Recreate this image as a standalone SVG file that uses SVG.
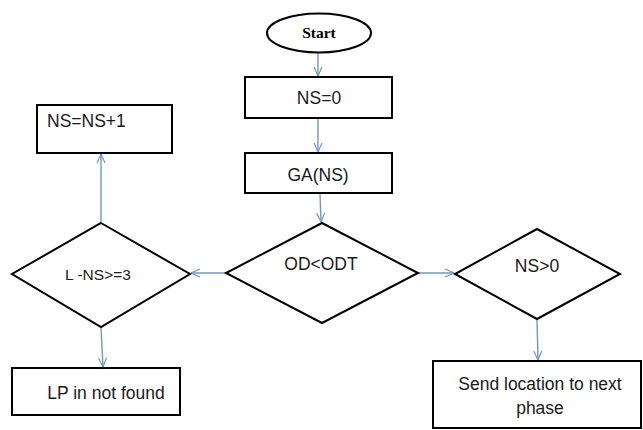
<svg xmlns="http://www.w3.org/2000/svg" width="643" height="430" viewBox="0 0 643 430">
  <defs>
    <marker id="arrow" viewBox="0 0 10 10" refX="10" refY="5" markerWidth="10" markerHeight="10" markerUnits="userSpaceOnUse" orient="auto">
      <path d="M1,1 L10,5 L1,9" fill="none" stroke="#7497c0" stroke-width="1.2"/>
    </marker>
    <style>
      .shape { fill: #ffffff; stroke: #000000; stroke-width: 2; }
      .link { fill: none; stroke: #7497c0; stroke-width: 1.4; marker-end: url(#arrow); }
      .label { font-family: "Liberation Sans", Arial, sans-serif; font-size: 17.5px; fill: #1a1a1a; text-anchor: middle; }
      .title { font-family: "Liberation Serif", "Times New Roman", serif; font-size: 15.5px; font-weight: bold; fill: #000000; text-anchor: middle; }
    </style>
  </defs>
  <rect width="643" height="430" fill="#ffffff"/>

  <g id="connectors">
    <line class="link" x1="318" y1="53" x2="318" y2="76"/>
    <line class="link" x1="318" y1="118" x2="318" y2="152"/>
    <line class="link" x1="320" y1="193" x2="321" y2="222"/>
    <line class="link" x1="226" y1="273" x2="191" y2="273"/>
    <line class="link" x1="418" y1="273" x2="454" y2="273"/>
    <line class="link" x1="101" y1="223" x2="101" y2="154"/>
    <line class="link" x1="101" y1="327" x2="103" y2="367"/>
    <line class="link" x1="537" y1="319" x2="538" y2="360"/>
  </g>

  <g id="start">
    <ellipse class="shape" cx="319" cy="33" rx="52" ry="19.5"/>
    <text class="title" x="319" y="38">Start</text>
  </g>

  <g id="init">
    <rect class="shape" x="245" y="77" width="147" height="41"/>
    <text class="label" x="319" y="104">NS=0</text>
  </g>

  <g id="ga">
    <rect class="shape" x="245" y="153" width="147" height="40"/>
    <text class="label" x="318" y="181">GA(NS)</text>
  </g>

  <g id="od-check">
    <polygon class="shape" points="322,223 418,273 322,323 226,273"/>
    <text class="label" x="321" y="270">OD&lt;ODT</text>
  </g>

  <g id="l-check">
    <polygon class="shape" points="101,223 190,274 101,327 12,274"/>
    <text class="label" x="98" y="280" style="font-size:15.5px">L -NS&gt;=3</text>
  </g>

  <g id="increment">
    <rect class="shape" x="37" y="105" width="135" height="48"/>
    <text class="label" x="47" y="127" style="text-anchor:start">NS=NS+1</text>
  </g>

  <g id="not-found">
    <rect class="shape" x="12" y="368" width="168" height="47"/>
    <text class="label" x="106" y="399">LP in not found</text>
  </g>

  <g id="ns-check">
    <polygon class="shape" points="537,229 620,274 537,319 455,274"/>
    <text class="label" x="537" y="272">NS&gt;0</text>
  </g>

  <g id="send">
    <rect class="shape" x="433" y="361" width="208" height="67"/>
    <text class="label" x="540" y="390">Send location to next</text>
    <text class="label" x="540" y="414">phase</text>
  </g>
</svg>
